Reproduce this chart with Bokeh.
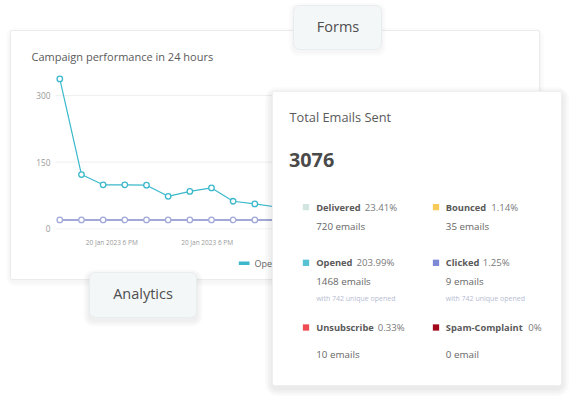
from bokeh.plotting import figure
from bokeh.models import Range1d
from bokeh.core.properties import value
from bokeh.embed import file_html
from bokeh.resources import INLINE

# ---------------- data ----------------
hour_index = [0, 1, 2, 3, 4, 5, 6, 7, 8, 9, 10]
opened_series = [337, 122, 99, 99, 98, 73, 84, 92, 62, 56, 49]
clicked_series = [20, 20, 20, 20, 20, 20, 20, 20, 20, 20, 20]
y_ticks = [0, 150, 300]
y_tick_labels = ["0", "150", "300"]
x_tick_pos = [2.4, 6.8]
x_tick_labels = ["20 Jan 2023 6 PM", "20 Jan 2023 6 PM"]
legend_names = ["Opened", "Clicked"]

total_sent = "3076"
stat_names = ["Delivered", "Bounced", "Opened", "Clicked", "Unsubscribe", "Spam-Complaint"]
stat_pcts = ["23.41%", "1.14%", "203.99%", "1.25%", "0.33%", "0%"]
stat_counts = ["720 emails", "35 emails", "1468 emails", "9 emails", "10 emails", "0 email"]
stat_notes = ["", "", "with 742 unique opened", "with 742 unique opened", "", ""]
stat_colors = ["#d2e5e1", "#f7ca5a", "#55c3d3", "#7d88d6", "#ef4b52", "#a1091b"]

# ---------------- styles / layout ----------------
FONT = value("Open Sans")
TEAL = "#3bb8cc"
PURPLE = "#a2a9d8"
W, H = 571, 398

p = figure(width=W, height=H, x_range=Range1d(0, W), y_range=Range1d(H, 0),
           min_border=0, toolbar_location=None, output_backend="svg",
           x_axis_location=None, y_axis_location=None)
p.grid.visible = False
p.outline_line_color = None
p.background_fill_color = "white"
p.border_fill_color = "white"

# chart-area scales (index -> px, value -> px)
px_per_idx = 21.67
x0_px = 59.3
p.extra_x_ranges = {"t": Range1d(-x0_px / px_per_idx, (W - x0_px) / px_per_idx)}
px_per_val = 66.7 / 150
zero_from_bottom = H - 228.3
ys = -zero_from_bottom / px_per_val
p.extra_y_ranges = {"v": Range1d(ys, ys + H / px_per_val)}


def shadow(l, r, t, b, n=4, alpha=0.018, dy=2):
    for k in range(n, 0, -1):
        e = k * 1.5
        p.quad(left=l - e, right=r + e, top=t - e + dy, bottom=b + e + dy,
               fill_color="black", fill_alpha=alpha, line_color=None,
               border_radius=int(round(4 + e)))


# ---- chart card ----
shadow(10, 539, 30, 279, n=3, alpha=0.012)
p.quad(left=10, right=539, top=30, bottom=279, fill_color="white",
       line_color="#ebebeb", line_width=1, border_radius=2)
p.text(x=[31], y=[56], text=["Campaign performance in 24 hours"], text_font=FONT,
       text_font_size="11px", text_color="#5a5a5a", text_baseline="middle")

# grid lines + y labels
p.segment(x0=55, x1=520, y0=y_ticks[1:], y1=y_ticks[1:], y_range_name="v",
          line_color="#efefef", line_width=1)
p.segment(x0=55, x1=520, y0=y_ticks[:1], y1=y_ticks[:1], y_range_name="v",
          line_color="#f3f3f3", line_width=1)
p.text(x=50, y=y_ticks, text=y_tick_labels, y_range_name="v", text_font=FONT,
       text_font_size="8.3px", text_color="#9a9a9a", text_align="right", text_baseline="middle")

# series
p.line(hour_index, clicked_series, x_range_name="t", y_range_name="v",
       line_color=PURPLE, line_width=2)
p.scatter(hour_index, clicked_series, x_range_name="t", y_range_name="v",
          size=5.5, fill_color="white", line_color=PURPLE, line_width=1.3)
p.line(hour_index, opened_series, x_range_name="t", y_range_name="v",
       line_color=TEAL, line_width=1.2)
p.scatter(hour_index, opened_series, x_range_name="t", y_range_name="v",
          size=5.5, fill_color="white", line_color=TEAL, line_width=1.3)

# x labels
p.text(x=x_tick_pos, y=241.7, text=x_tick_labels, x_range_name="t", text_font=FONT,
       text_font_size="6.5px", text_color="#9a9a9a", text_align="center", text_baseline="middle")

# legend
p.segment(x0=[238.3, 304], x1=[249, 314.7], y0=262.7, y1=262.7,
          line_color=[TEAL, PURPLE], line_width=3.5)
p.text(x=[254, 319.7], y=262.7, text=legend_names, text_font=FONT, text_font_size="9px",
       text_color="#666666", text_baseline="middle")

# ---- Analytics tab ----
shadow(89, 196, 272, 317, n=4, alpha=0.015, dy=3)
p.quad(left=89, right=196, top=272, bottom=317, fill_color="#f4f7f8",
       line_color="#e8edef", line_width=1, border_radius=6)
p.text(x=[142.5], y=[292.5], text=["Analytics"], text_font=FONT, text_font_size="14.5px",
       text_color="#4e4e4e", text_align="center", text_baseline="middle")

# ---- Forms tab ----
shadow(293, 381, 5, 49, n=3, alpha=0.012, dy=2)
p.quad(left=293, right=381, top=5, bottom=49, fill_color="#f4f7f8",
       line_color="#e8edef", line_width=1, border_radius=6)
p.text(x=[337.5], y=[25.5], text=["Forms"], text_font=FONT, text_font_size="14.5px",
       text_color="#4e4e4e", text_align="center", text_baseline="middle")

# ---- Total emails card ----
shadow(272, 561, 91, 385, n=5, alpha=0.016, dy=3)
p.quad(left=272, right=561, top=91, bottom=385, fill_color="white",
       line_color="#efefef", line_width=1, border_radius=2)
p.text(x=[289], y=[116.5], text=["Total Emails Sent"], text_font=FONT, text_font_size="12.8px",
       text_color="#5a5a5a", text_baseline="middle")
p.text(x=[288.5], y=[159.5], text=[total_sent], text_font=FONT, text_font_size="19.8px",
       text_font_style="bold", text_color="#4a4a4a", text_baseline="middle")

col_sq = [305.5, 435.5]
col_txt = [315.7, 445.3]
row_name_y = [206.7, 262.3, 327.0]
row_count_y = [225.7, 280.7, 354.0]
note_y = 297.7
pct_x = [364.3, 490.7, 356.0, 482.3, 377.3, 527.7]

sq_x, sq_y, nm_x, nm_y, ct_y, ct_x = [], [], [], [], [], []
for i in range(len(stat_names)):
    r, c = divmod(i, 2)
    sq_x.append(col_sq[c]); sq_y.append(row_name_y[r])
    nm_x.append(col_txt[c]); nm_y.append(row_name_y[r])
    ct_x.append(col_txt[c]); ct_y.append(row_count_y[r])

p.rect(x=sq_x, y=sq_y, width=6.3, height=6.3, fill_color=stat_colors, line_color=None)
p.text(x=nm_x, y=nm_y, text=stat_names, text_font=FONT, text_font_size="9.3px",
       text_font_style="bold", text_color="#5a5a5a", text_baseline="middle")
p.text(x=pct_x, y=nm_y, text=stat_pcts, text_font=FONT, text_font_size="9.6px",
       text_color="#7a7a7a", text_baseline="middle")
p.text(x=ct_x, y=ct_y, text=stat_counts, text_font=FONT, text_font_size="9.8px",
       text_color="#666666", text_baseline="middle")
nx = [ct_x[i] for i in range(len(stat_notes)) if stat_notes[i]]
nt = [s for s in stat_notes if s]
p.text(x=nx, y=note_y, text=nt, text_font=FONT, text_font_size="7px",
       text_color="#b7bcd2", text_baseline="middle")

open("out.html", "w").write(file_html(p, INLINE))
